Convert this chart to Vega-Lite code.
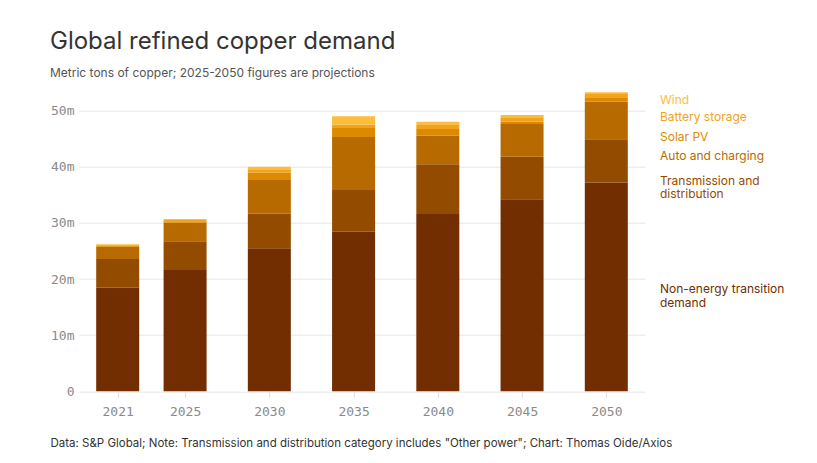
{
  "$schema": "https://vega.github.io/schema/vega-lite/v6.json",
  "autosize": {"type": "none"},
  "width": 566,
  "height": 308.5,
  "padding": {"left": 79, "top": 82.7, "right": 172, "bottom": 71.8},
  "background": "#ffffff",
  "config": {"view": {"stroke": null}},
  "title": {
    "text": "Global refined copper demand",
    "subtitle": "Metric tons of copper; 2025-2050 figures are projections",
    "anchor": "start",
    "frame": "group",
    "dx": -29,
    "offset": 4,
    "font": "Inter",
    "fontSize": 24,
    "fontWeight": 400,
    "color": "#333333",
    "subtitleFont": "Inter",
    "subtitleFontSize": 12,
    "subtitleColor": "#555555",
    "subtitlePadding": 14
  },
  "datasets": {
    "demand": [
      {"year": 2021, "category": "Non-energy transition demand", "value": 18.45},
      {"year": 2021, "category": "Transmission and distribution", "value": 5.1},
      {"year": 2021, "category": "Auto and charging", "value": 2.2},
      {"year": 2021, "category": "Solar PV", "value": 0.2},
      {"year": 2021, "category": "Battery storage", "value": 0.1},
      {"year": 2021, "category": "Wind", "value": 0.15},
      {"year": 2025, "category": "Non-energy transition demand", "value": 21.6},
      {"year": 2025, "category": "Transmission and distribution", "value": 5.15},
      {"year": 2025, "category": "Auto and charging", "value": 3.3},
      {"year": 2025, "category": "Solar PV", "value": 0.25},
      {"year": 2025, "category": "Battery storage", "value": 0.2},
      {"year": 2025, "category": "Wind", "value": 0.2},
      {"year": 2030, "category": "Non-energy transition demand", "value": 25.5},
      {"year": 2030, "category": "Transmission and distribution", "value": 6.15},
      {"year": 2030, "category": "Auto and charging", "value": 6.0},
      {"year": 2030, "category": "Solar PV", "value": 1.35},
      {"year": 2030, "category": "Battery storage", "value": 0.45},
      {"year": 2030, "category": "Wind", "value": 0.55},
      {"year": 2035, "category": "Non-energy transition demand", "value": 28.43},
      {"year": 2035, "category": "Transmission and distribution", "value": 7.45},
      {"year": 2035, "category": "Auto and charging", "value": 9.45},
      {"year": 2035, "category": "Solar PV", "value": 1.6},
      {"year": 2035, "category": "Battery storage", "value": 0.6},
      {"year": 2035, "category": "Wind", "value": 1.5},
      {"year": 2040, "category": "Non-energy transition demand", "value": 31.6},
      {"year": 2040, "category": "Transmission and distribution", "value": 8.85},
      {"year": 2040, "category": "Auto and charging", "value": 5.1},
      {"year": 2040, "category": "Solar PV", "value": 1.2},
      {"year": 2040, "category": "Battery storage", "value": 0.85},
      {"year": 2040, "category": "Wind", "value": 0.45},
      {"year": 2045, "category": "Non-energy transition demand", "value": 34.2},
      {"year": 2045, "category": "Transmission and distribution", "value": 7.6},
      {"year": 2045, "category": "Auto and charging", "value": 5.85},
      {"year": 2045, "category": "Solar PV", "value": 0.4},
      {"year": 2045, "category": "Battery storage", "value": 0.8},
      {"year": 2045, "category": "Wind", "value": 0.4},
      {"year": 2050, "category": "Non-energy transition demand", "value": 37.2},
      {"year": 2050, "category": "Transmission and distribution", "value": 7.7},
      {"year": 2050, "category": "Auto and charging", "value": 6.7},
      {"year": 2050, "category": "Solar PV", "value": 0.8},
      {"year": 2050, "category": "Battery storage", "value": 0.6},
      {"year": 2050, "category": "Wind", "value": 0.3}
    ],
    "labels": [
      {"category": "Wind", "lines": ["Wind"], "anchor": 51.9},
      {"category": "Battery storage", "lines": ["Battery storage"], "anchor": 48.9},
      {"category": "Solar PV", "lines": ["Solar PV"], "anchor": 45.3},
      {"category": "Auto and charging", "lines": ["Auto and charging"], "anchor": 41.9},
      {"category": "Transmission and distribution", "lines": ["Transmission and", "distribution"], "anchor": 37.5},
      {"category": "Non-energy transition demand", "lines": ["Non-energy transition", "demand"], "anchor": 18.2}
    ]
  },
  "layer": [
    {
      "data": {"name": "demand"},
      "transform": [
        {"calculate": "indexof(['Non-energy transition demand', 'Transmission and distribution', 'Auto and charging', 'Solar PV', 'Battery storage', 'Wind'], datum.category)", "as": "stackOrder"}
      ],
      "mark": {"type": "bar", "width": 43},
      "encoding": {
        "x": {
          "field": "year",
          "type": "quantitative",
          "scale": {"domain": [2019, 2052], "nice": false, "zero": false},
          "axis": {
            "values": [2021, 2025, 2030, 2035, 2040, 2045, 2050],
            "format": "d",
            "grid": false,
            "domain": false,
            "ticks": true,
            "tickSize": 6,
            "tickColor": "#dddddd",
            "labelFont": "DejaVu Sans Mono",
            "labelFontSize": 13,
            "labelColor": "#8a8a8a",
            "labelPadding": 8,
            "title": "Data: S&P Global; Note: Transmission and distribution category includes \"Other power\"; Chart: Thomas Oide/Axios",
            "titleAnchor": "start",
            "titleAlign": "left",
            "titleX": -29,
            "titleY": 52,
            "titleBaseline": "middle",
            "titleFont": "Inter",
            "titleFontSize": 11.5,
            "titleFontWeight": 400,
            "titleColor": "#333333"
          }
        },
        "y": {
          "field": "value",
          "type": "quantitative",
          "stack": "zero",
          "scale": {"domain": [0, 55], "nice": false},
          "axis": {
            "values": [0, 10, 20, 30, 40, 50],
            "labelExpr": "datum.value == 0 ? '0' : datum.value + 'm'",
            "grid": true,
            "gridColor": "#e6e6e6",
            "domain": false,
            "ticks": false,
            "labelPadding": 5,
            "labelFont": "DejaVu Sans Mono",
            "labelFontSize": 13,
            "labelColor": "#8a8a8a",
            "title": null
          }
        },
        "order": {"field": "stackOrder", "type": "quantitative", "sort": "ascending"},
        "color": {
          "field": "category",
          "type": "nominal",
          "scale": {
            "domain": ["Non-energy transition demand", "Transmission and distribution", "Auto and charging", "Solar PV", "Battery storage", "Wind"],
            "range": ["#722d00", "#934b00", "#b66a00", "#dc8b00", "#f2a21c", "#fcbd3a"]
          },
          "legend": null
        }
      }
    },
    {
      "data": {"name": "labels"},
      "mark": {"type": "text", "align": "left", "baseline": "middle", "dx": 20, "font": "Inter", "fontSize": 12, "lineHeight": 13.5},
      "encoding": {
        "x": {"datum": 2052, "type": "quantitative"},
        "y": {"field": "anchor", "type": "quantitative"},
        "text": {"field": "lines"},
        "color": {"field": "category", "type": "nominal", "legend": null}
      }
    }
  ]
}
